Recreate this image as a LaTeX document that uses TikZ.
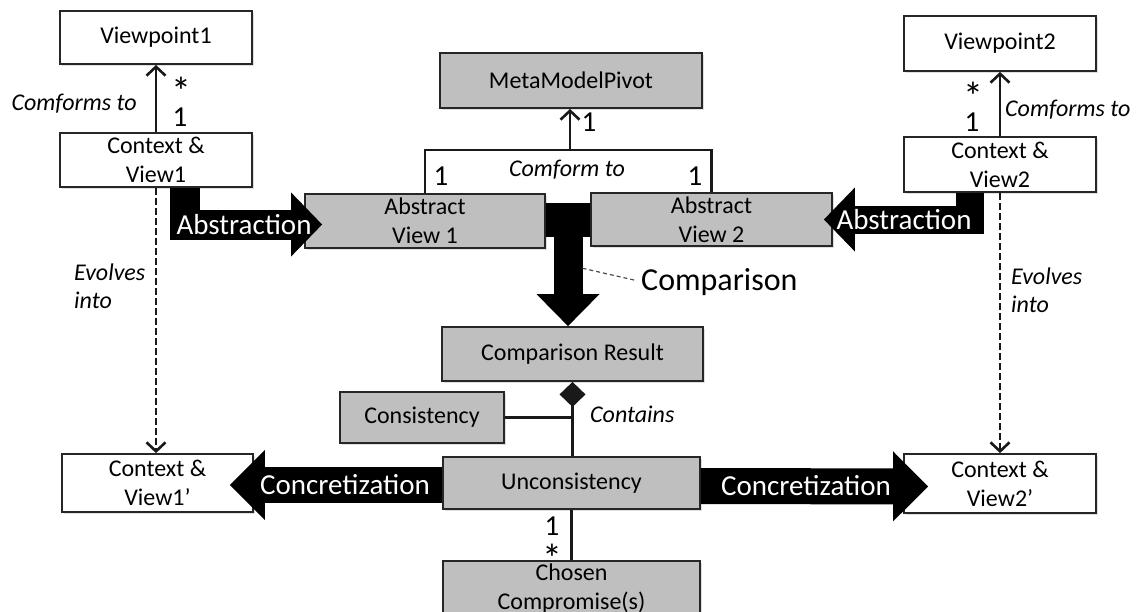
\documentclass[tikz,border=0pt]{standalone}
\usepackage{fontspec}
\setmainfont{Carlito}
\usetikzlibrary{
	arrows.meta,
	calc,
	shadows
}
\definecolor{BoxGray}{RGB}{191,191,191}

\begin{document}
\begin{tikzpicture}[x=1pt, y=-1pt,
		box/.style={draw=black!85, line width=1.8pt, fill=white, inner sep=0pt, align=center,
			minimum width=192pt, minimum height=54pt, font=\fontsize{24}{29}\selectfont,
			drop shadow={shadow xshift=2pt, shadow yshift=-2pt, opacity=0.25}},
		graybox/.style={box, fill=BoxGray},
		link/.style={line width=2.6pt, black!90},
		conform/.style={link, -{Straight Barb[length=9pt, width=19pt]}},
		evolve/.style={link, dash pattern=on 7pt off 3pt, -{Straight Barb[length=9pt, width=19pt]}},
		fatabs/.style={line width=30pt, -{Triangle[length=31pt, width=64pt, line width=0pt]}},
		fatcon/.style={line width=36pt, -{Triangle[length=35pt, width=70pt, line width=0pt]}},
		fatcmp/.style={line width=29pt, -{Triangle[length=32pt, width=63pt, line width=0pt]}},
		fatlabel/.style={text=white, font=\fontsize{29}{34}\selectfont, inner sep=0pt},
		mult/.style={font=\fontsize{29}{32}\selectfont, inner sep=0pt, anchor=north},
		star/.style={mult, font=\fontsize{40}{40}\selectfont},
		role/.style={font=\itshape\fontsize{24}{28}\selectfont, inner sep=0pt},
		note/.style={line width=1.2pt, black!70, dash pattern=on 4pt off 3pt}
	]
	\useasboundingbox (0,0) rectangle (1138,611);

	% boxes
	\node[box, minimum height=53pt] (vp1) at (156,37.5) {Viewpoint1};
	\node[box] (cv1) at (156,160) {Context \&\\View1};
	\node[box, minimum height=55pt] (vp2) at (1000,43.5) {Viewpoint2};
	\node[box, minimum height=55pt] (cv2) at (1000,164.5) {Context \&\\View2};
	\node[graybox, minimum width=262pt, minimum height=55pt] (mmp) at (571,80.5) {MetaModelPivot};
	\node[graybox, minimum width=240pt] (av1) at (425,221) {Abstract\\View 1};
	\node[graybox, minimum width=241pt, minimum height=53pt] (av2) at (711.5,219.5) {Abstract\\View 2};
	\node[graybox, minimum width=261pt] (cr) at (572.5,354) {Comparison Result};
	\node[graybox, minimum width=164pt, minimum height=51pt] (cons) at (422,417.5) {Consistency};
	\node[graybox, minimum width=257pt, minimum height=52pt] (uncons) at (571.5,483) {Unconsistency};
	\node[graybox, minimum width=257pt, minimum height=56pt] (chosen) at (571.5,589) {Chosen\\Compromise(s)};
	\node[box, minimum width=191pt, minimum height=58pt] (cv1p) at (157.5,483) {Context \&\\View1’};
	\node[box, minimum height=59pt] (cv2p) at (1000,483.5) {Context \&\\View2’};

	% conformance
	\draw[conform] (cv1.north) -- (vp1.south);
	\node[star] (m1) at (181,77) {*};
	\node[mult] (m2) at (180,108) {1};
	\node[role, anchor=east] (cf1) at (137,104) {Comforms to};

	\draw[conform] (cv2.north) -- (vp2.south);
	\node[star] (m3) at (973.5,82) {*};
	\node[mult] (m4) at (972,113) {1};
	\node[role, anchor=west] (cf2) at (1005,110) {Comforms to};

	\coordinate (join) at (570,150);
	\draw[link] (av1.north) |- (join) -| (av2.north);
	\draw[conform] (join) -- (join |- mmp.south);
	\node[mult] (m5) at (589,113) {1};
	\node[mult] (m6) at (441,167) {1};
	\node[mult] (m7) at (695,167) {1};
	\node[role] (cft) at (567,170) {Comform to};

	% evolution
	\draw[evolve] (cv1.south) -- (cv1.south |- cv1p.north);
	\node[role, anchor=west, align=left] (ev1) at (74,286) {Evolves\\into};
	\draw[evolve] (cv2.south) -- (cv2.south |- cv2p.north);
	\node[role, anchor=west, align=left] (ev2) at (1011,290) {Evolves\\into};

	% abstraction
	\draw[fatabs] ([xshift=28.5pt]cv1.south) |- ([xshift=18pt, yshift=-3.5pt]av1.west);
	\node[fatlabel] (abs1) at (244,225) {Abstraction};
	\draw[fatabs, line width=28pt] ([xshift=-30.5pt]cv2.south) |- ([xshift=-9pt]av2.east);
	\node[fatlabel] (abs2) at (904,220) {Abstraction};

	% comparison
	\coordinate (tee) at ($(av1.east)!0.5!(av2.west)$);
	\fill ($(av1.east)+(0,-18)$) rectangle ($(av2.west)+(0,17.5)$);
	\draw[fatcmp] (tee) -- (tee |- cr.north);
	\node[anchor=west, inner sep=0pt, font=\fontsize{32}{36}\selectfont] (cmp) at (641,282) {Comparison};
	\draw[note] ($(tee)+(14.5,48)$) -- ([xshift=-7pt, yshift=2pt]cmp.west);

	% result
	\draw[link, {Diamond[length=25pt, width=26pt]}-] (cr.south) -- (cr.south |- uncons.north);
	\draw[link] (cons.east) -- (cons.east -| cr.south);
	\node[role, anchor=west] (cnt) at (590,414) {Contains};
	\draw[link] (uncons.south) -- (chosen.north);
	\node[mult] (m8) at (552,517) {1};
	\node[star] (m9) at (552,544) {*};

	% concretization
	\draw[fatcon] ([yshift=-2pt]uncons.west) -- ([xshift=-24pt, yshift=-2pt]cv1p.east);
	\node[fatlabel] (con1) at (345,485) {Concretization};
	\draw[fatcon] ([yshift=-3pt]uncons.east) -- ([xshift=25pt, yshift=-3pt]cv2p.west);
	\node[fatlabel] (con2) at (806,486) {Concretization};
\end{tikzpicture}
\end{document}
